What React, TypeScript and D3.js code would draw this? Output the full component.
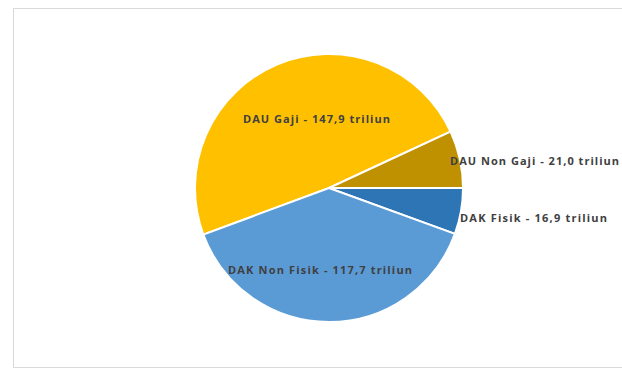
import React from "react";
import * as d3 from "d3";

const categories = ["DAU Gaji", "DAU Non Gaji", "DAK Fisik", "DAK Non Fisik"];
const values = [147.9, 21.0, 16.9, 117.7];
const valueLabels = ["147,9", "21,0", "16,9", "117,7"];
const colors = ["#FFC000", "#BF9000", "#2E75B6", "#5B9BD5"];

const W = 622;
const H = 370;
const cx = 329;
const cy = 188;
const R = 134;

// label anchor positions (left x, baseline y) and rendered widths
const labelPos: [number, number][] = [
  [243, 123],
  [450, 165],
  [460, 222],
  [228, 274],
];
const labelWidths = [147, 169, 147, 184];

export default function App() {
  const total = d3.sum(values);
  const start = Math.PI / 2 - ((values[0] + values[1]) / total) * 2 * Math.PI;
  const pie = d3
    .pie<number>()
    .sort(null)
    .value((d) => d)
    .startAngle(start)
    .endAngle(start + 2 * Math.PI);
  const arcs = pie(values);
  const arc = d3.arc<d3.PieArcDatum<number>>().innerRadius(0).outerRadius(R);

  return (
    <svg
      width={W}
      height={H}
      style={{ position: "absolute", left: 0, top: 0, background: "#fff" }}
    >
      <rect x={13.5} y={8.5} width={W + 20} height={359} fill="#fff" stroke="#d9d9d9" strokeWidth={1} />
      <g transform={`translate(${cx},${cy})`}>
        {arcs.map((a, i) => (
          <path key={i} d={arc(a) || ""} fill={colors[i]} stroke="#fff" strokeWidth={2} />
        ))}
      </g>
      {categories.map((c, i) => (
        <text
          key={c}
          x={labelPos[i][0]}
          y={labelPos[i][1]}
          fontFamily="'Open Sans', sans-serif"
          fontWeight="bold"
          fontSize={11}
          textLength={labelWidths[i]}
          lengthAdjust="spacing"
          fill="#404040"
        >
          {`${c} - ${valueLabels[i]} triliun`}
        </text>
      ))}
    </svg>
  );
}
